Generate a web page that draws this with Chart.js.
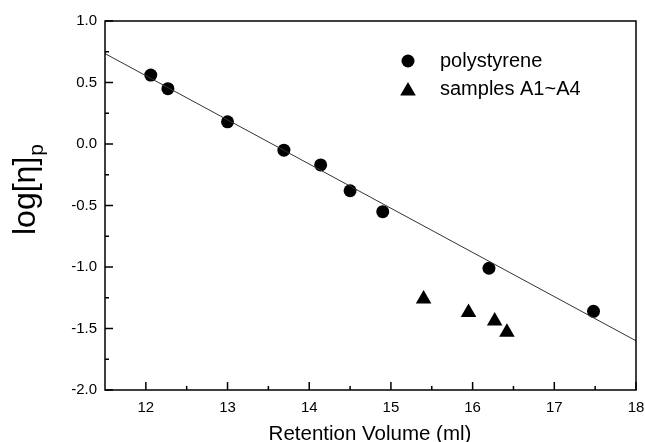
<!DOCTYPE html>
<html>
<head>
<meta charset="utf-8">
<script src="https://cdn.jsdelivr.net/npm/chart.js@4/dist/chart.umd.min.js"></script>
<style>
  html, body { margin: 0; padding: 0; background: #fff; }
  #wrap { width: 645px; height: 442px; position: relative; }
</style>
</head>
<body>
<div id="wrap"><canvas id="chart"></canvas></div>
<script>
'use strict';

// ── Data ──────────────────────────────────────
const psVolume     = [12.06, 12.27, 13.0, 13.69, 14.14, 14.5, 14.9, 16.2, 17.48];
const psLogEta     = [0.56, 0.45, 0.18, -0.05, -0.17, -0.38, -0.55, -1.01, -1.36];
const sampleVolume = [15.4, 15.95, 16.27, 16.42];
const sampleLogEta = [-1.26, -1.37, -1.44, -1.53];
const fitVolume    = [11.5, 18];
const fitLogEta    = [0.735, -1.60];

const xTicks = [12, 13, 14, 15, 16, 17, 18];
const xMinor = [12.5, 13.5, 14.5, 15.5, 16.5, 17.5];
const yTicks = [-2.0, -1.5, -1.0, -0.5, 0.0, 0.5, 1.0];
const yMinor = [-1.75, -1.25, -0.75, -0.25, 0.25, 0.75];

const legendItems = [
  { label: 'polystyrene',   style: 'circle' },
  { label: 'samples A1~A4', style: 'triangle' },
];

const FONT = "'Liberation Sans', Arial, sans-serif";

const toPoints = (xs, ys) => xs.map((x, i) => ({ x, y: ys[i] }));

function marker(ctx, style, x, y, r) {
  ctx.beginPath();
  if (style === 'circle') {
    ctx.arc(x, y, r, 0, Math.PI * 2);
  } else {
    ctx.moveTo(x, y - r);
    ctx.lineTo(x + r * Math.sqrt(3) / 2, y + r / 2);
    ctx.lineTo(x - r * Math.sqrt(3) / 2, y + r / 2);
    ctx.closePath();
  }
  ctx.fill();
}

// ── Frame, inward ticks, titles, legend ──────
const framePlugin = {
  id: 'frame',
  afterDraw(chart) {
    const { ctx, chartArea: a, scales: { x, y } } = chart;
    ctx.save();
    ctx.strokeStyle = '#000';
    ctx.lineWidth = 1.5;
    ctx.strokeRect(a.left, a.top, a.right - a.left, a.bottom - a.top);

    ctx.beginPath();
    xTicks.forEach(v => { const px = x.getPixelForValue(v); ctx.moveTo(px, a.bottom); ctx.lineTo(px, a.bottom - 8); });
    xMinor.forEach(v => { const px = x.getPixelForValue(v); ctx.moveTo(px, a.bottom); ctx.lineTo(px, a.bottom - 4); });
    yTicks.forEach(v => { const py = y.getPixelForValue(v); ctx.moveTo(a.left, py); ctx.lineTo(a.left + 8, py); });
    yMinor.forEach(v => { const py = y.getPixelForValue(v); ctx.moveTo(a.left, py); ctx.lineTo(a.left + 4, py); });
    ctx.stroke();

    ctx.fillStyle = '#000';
    // x title
    ctx.font = '20.5px ' + FONT;
    ctx.textAlign = 'center';
    ctx.textBaseline = 'alphabetic';
    ctx.fillText('Retention Volume (ml)', 370, 440);

    // y title with subscript
    ctx.save();
    ctx.translate(35, 235);
    ctx.rotate(-Math.PI / 2);
    ctx.textAlign = 'left';
    ctx.font = '32px ' + FONT;
    const main = 'log[η]';
    ctx.fillText(main, 0, 0);
    const w = ctx.measureText(main).width;
    ctx.font = '21px ' + FONT;
    ctx.fillText('p', w + 1, 8);
    ctx.restore();

    // legend
    ctx.font = '20px ' + FONT;
    ctx.textAlign = 'left';
    ctx.textBaseline = 'middle';
    legendItems.forEach((it, i) => {
      const ly = 61 + i * 28;
      marker(ctx, it.style, 408, it.style === 'triangle' ? ly + 2 : ly, it.style === 'triangle' ? 9 : 6.5);
      ctx.fillText(it.label, 440, ly);
    });
    ctx.restore();
  },
};

new Chart(document.getElementById('chart'), {
  type: 'scatter',
  data: {
    datasets: [
      {
        label: 'fit',
        data: toPoints(fitVolume, fitLogEta),
        showLine: true,
        borderColor: '#333',
        borderWidth: 1,
        pointRadius: 0,
      },
      {
        label: 'polystyrene',
        data: toPoints(psVolume, psLogEta),
        pointStyle: 'circle',
        pointRadius: 6.5,
        backgroundColor: '#000',
        borderColor: '#000',
        borderWidth: 0,
      },
      {
        label: 'samples A1~A4',
        data: toPoints(sampleVolume, sampleLogEta),
        pointStyle: 'triangle',
        pointRadius: 9,
        backgroundColor: '#000',
        borderColor: '#000',
        borderWidth: 0,
      },
    ],
  },
  options: {
    responsive: true,
    maintainAspectRatio: false,
    animation: false,
    layout: { padding: { top: 21, right: 9, left: 0, bottom: 0 } },
    plugins: { legend: { display: false }, tooltip: { enabled: false } },
    scales: {
      x: {
        type: 'linear',
        min: 11.5,
        max: 18,
        grid: { display: false, drawTicks: false },
        border: { display: false },
        afterBuildTicks: s => { s.ticks = xTicks.map(v => ({ value: v })); },
        afterFit: s => { s.height = 52; s.paddingLeft = 0; s.paddingRight = 0; },
        ticks: { color: '#000', padding: 9, font: { size: 15, family: FONT }, maxRotation: 0 },
      },
      y: {
        min: -2,
        max: 1,
        grid: { display: false, drawTicks: false },
        border: { display: false },
        afterBuildTicks: s => { s.ticks = yTicks.map(v => ({ value: v })); },
        afterFit: s => { s.width = 105; },
        ticks: { color: '#000', padding: 8, font: { size: 15, family: FONT }, callback: v => v.toFixed(1) },
      },
    },
  },
  plugins: [framePlugin],
});
</script>
</body>
</html>
